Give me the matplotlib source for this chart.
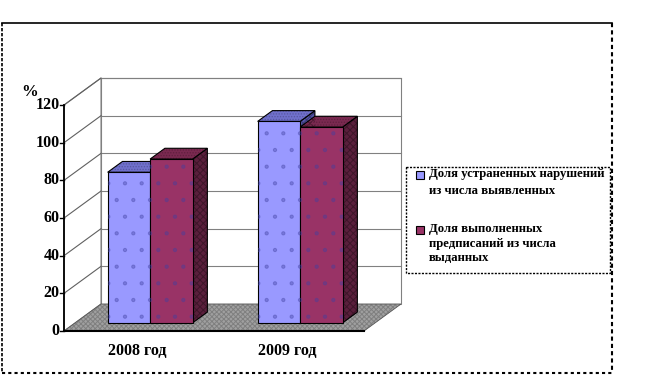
import numpy as np
import matplotlib.pyplot as plt
from matplotlib.patches import Polygon, Rectangle

# данные
years = ["2008 год", "2009 год"]
ustr = [80, 107]     # доля устраненных нарушений
vypoln = [87, 104]   # доля выполненных предписаний
yticks = [0, 20, 40, 60, 80, 100, 120]
leg1 = "Доля устраненных нарушений\nиз числа выявленных"
leg2 = "Доля выполненных\nпредписаний из числа\nвыданных"

plt.rcParams['font.family'] = ['Liberation Serif', 'DejaVu Serif']
plt.rcParams['hatch.linewidth'] = 0.7

fig = plt.figure(figsize=(6.54, 3.79), dpi=100)
W, H = 654, 379

# оси в единицах данных: 1 категория = 150 px, 1 % = 1.883 px
x0px, y0px, sx, sy = 64, 331, 150.0, 1.883
xl = (-0.4, 2.5)
yl = (-16, 140)
left = x0px + sx*xl[0]
right = x0px + sx*xl[1]
bot = y0px - sy*yl[0]
top = y0px - sy*yl[1]
ax = fig.add_axes([left/W, (H-bot)/H, (right-left)/W, (bot-top)/H])
ax.set_xlim(*xl)
ax.set_ylim(*yl)
ax.axis('off')

DX = 37/sx   # глубина
DY = 27/sy
ymax = 120
n = len(years)

def poly(pts, fc, ec='black', lw=0.8, z=1, hatch=None, hc=None):
    ax.add_patch(Polygon(pts, closed=True, facecolor=fc, edgecolor=ec, lw=lw, zorder=z))
    if hatch:
        ax.add_patch(Polygon(pts, closed=True, facecolor='none', edgecolor=hc, lw=0,
                             hatch=hatch, zorder=z+0.01))

# задняя стенка
poly([(DX, DY), (n+DX, DY), (n+DX, ymax+DY), (DX, ymax+DY)], 'white', ec='#808080', lw=0.8, z=0)
# левая стенка
poly([(0, 0), (DX, DY), (DX, ymax+DY), (0, ymax)], 'white', ec='#808080', lw=0.8, z=0)
for v in yticks[1:]:
    ax.plot([DX, n+DX], [v+DY, v+DY], color='#808080', lw=0.8, zorder=0.5)
    ax.plot([0, DX], [v, v+DY], color='#606060', lw=0.8, zorder=0.5)
# пол
poly([(0, 0), (n, 0), (n+DX, DY), (DX, DY)], '#a0a0a0', ec='#555555', lw=0.6, z=0.6,
     hatch='xxxxxxx', hc='#60606080')

# оси
ax.plot([0, 0], [0, ymax], color='black', lw=1.3, zorder=3)
ax.plot([0, n], [0, 0], color='black', lw=1.5, zorder=3)
for v in yticks:
    ax.plot([-0.025, 0], [v, v], color='black', lw=1, zorder=3)
    ax.text(-0.03, v, str(v), ha='right', va='center', fontsize=11.5, fontweight='bold')
ax.text(-0.23, 127, "%", ha='center', va='center', fontsize=12, fontweight='bold')
for i, lab in enumerate(years):
    ax.text(i+0.49, -10.5, lab, ha='center', va='center', fontsize=11.5, fontweight='bold')

# столбцы
bw = 0.283
d0, d1 = 0.3, 0.7
def bar3d(xa, val, face, topc, side):
    ox, oy = DX*d0, DY*d0
    bx, by = DX*(d1-d0), DY*(d1-d0)
    xl_, xr = xa+ox, xa+bw+ox
    yb, yt = oy, val+oy
    poly([(xr, yb), (xr+bx, yb+by), (xr+bx, yt+by), (xr, yt)], side, z=2,
         hatch='xxxxx', hc='#00000050')
    poly([(xl_, yt), (xr, yt), (xr+bx, yt+by), (xl_+bx, yt+by)], topc, z=2,
         hatch='......', hc='#00000030')
    poly([(xl_, yb), (xr, yb), (xr, yt), (xl_, yt)], face, z=2.5,
         hatch='.', hc='#4040a060')

for i in range(n):
    c = i + 0.5
    bar3d(c-bw, ustr[i], '#9999ff', '#7070cc', '#5555aa')
    bar3d(c, vypoln[i], '#993366', '#7a2950', '#5a1f3c')

# рамка и легенда
ov = fig.add_axes([0, 0, 1, 1], zorder=-1)
ov.set_xlim(0, W)
ov.set_ylim(H, 0)
ov.axis('off')
ov.plot([2, 612], [23, 23], color='black', lw=1.2)
ov.plot([2, 2], [23, 373], color='black', lw=1.2, ls=(0, (2, 1)))
ov.plot([612, 612], [23, 373], color='black', lw=1.5, ls=(0, (2, 1.5)))
ov.plot([2, 612], [373, 373], color='black', lw=1.5, ls=(0, (1.5, 1.5)))

lax = fig.add_axes([0, 0, 1, 1], zorder=5)
lax.set_xlim(0, W)
lax.set_ylim(H, 0)
lax.axis('off')
lax.add_patch(Rectangle((406, 167), 204, 106, facecolor='white', edgecolor='black',
                        lw=1, ls=(0, (1.5, 1)), zorder=1))
lax.add_patch(Rectangle((416, 171), 8, 8, facecolor='#9999ff', edgecolor='black', lw=0.8, zorder=2))
lax.add_patch(Rectangle((416, 226), 8, 8, facecolor='#993366', edgecolor='black', lw=0.8, zorder=2))
lax.text(429, 168, leg1, ha='left', va='top', fontsize=9.2, fontweight='bold',
         linespacing=1.5, zorder=3)
lax.text(429, 223, leg2, ha='left', va='top', fontsize=9.2, fontweight='bold',
         linespacing=1.3, zorder=3)

fig.savefig("out.png", dpi=100)
